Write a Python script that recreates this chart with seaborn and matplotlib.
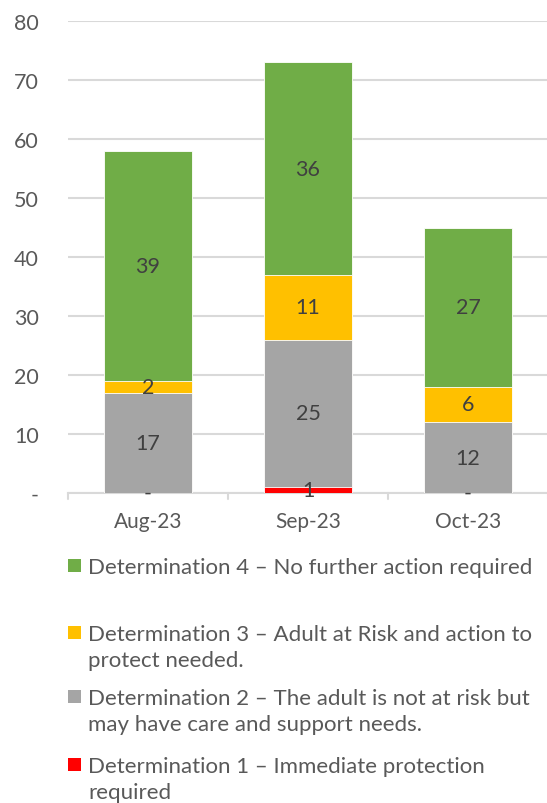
import numpy as np
import pandas as pd
import matplotlib
matplotlib.use("Agg")
import matplotlib.pyplot as plt
from matplotlib.patches import Rectangle
import seaborn as sns

# Monthly counts by determination outcome
months = ["Aug-23", "Sep-23", "Oct-23"]
det1 = [0, 1, 0]      # Immediate protection required
det2 = [17, 25, 12]   # Not at risk, may have care and support needs
det3 = [2, 11, 6]     # Adult at risk, action to protect needed
det4 = [39, 36, 27]   # No further action required

series_labels = [
    ["Determination 1 \u2013 Immediate protection", "required"],
    ["Determination 2 \u2013 The adult is not at risk but",
     "may have care and support needs."],
    ["Determination 3 \u2013 Adult at Risk and action to", "protect needed."],
    ["Determination 4 \u2013 No further action required"],
]
series_colors = ["#FF0000", "#A5A5A5", "#FFC000", "#70AD47"]
y_ticks = [0, 10, 20, 30, 40, 50, 60, 70, 80]
y_ticklabels = ["-", "10", "20", "30", "40", "50", "60", "70", "80"]

sns.set_theme(style="white")
plt.rcParams["font.family"] = ["Lato", "DejaVu Sans"]
TEXT = "#595959"
LABEL = "#404040"
GRID = "#D9D9D9"

W, H = 547, 804
fig = plt.figure(figsize=(W / 100, H / 100), dpi=100)
ax_left, ax_right = 68, 547
ax_top, ax_bottom = 22, 494
ax = fig.add_axes([ax_left / W, 1 - ax_bottom / H,
                   (ax_right - ax_left) / W, (ax_bottom - ax_top) / H])

stack = np.array([det1, det2, det3, det4], dtype=float)
cum = np.cumsum(stack, axis=0)

# Draw cumulative totals from the top series down so each layer shows its segment
for i in range(3, -1, -1):
    df = pd.DataFrame({"month": months, "value": cum[i]})
    sns.barplot(data=df, x="month", y="value", color=series_colors[i],
                width=0.556, saturation=1, edgecolor="white", linewidth=0.6,
                ax=ax, zorder=3)

# Segment value labels
for i in range(4):
    for j in range(len(months)):
        v = stack[i, j]
        base = cum[i, j] - v
        txt = "-" if v == 0 else f"{int(v)}"
        ax.text(j, base + v / 2, txt, ha="center", va="center",
                fontsize=15.5, color=LABEL, zorder=5)

ax.set_xlim(-0.5, -0.5 + (ax_right - ax_left) / 160)
ax.set_ylim(0, 80)
ax.set_yticks(y_ticks)
ax.set_yticklabels(y_ticklabels)
ax.set_xlabel("")
ax.set_ylabel("")
ax.yaxis.grid(True, color=GRID, linewidth=1.5, zorder=0)
ax.set_axisbelow(True)
for s in ["top", "right", "left"]:
    ax.spines[s].set_visible(False)
ax.spines["bottom"].set_color(GRID)
ax.spines["bottom"].set_linewidth(1.5)
ax.tick_params(axis="y", length=0, labelsize=15.5, labelcolor=TEXT, pad=21)
ax.tick_params(axis="x", length=0, labelsize=15, labelcolor=TEXT, pad=13)
for xb in [-0.5, 0.5, 1.5, 2.5]:
    ax.plot([xb, xb], [0, -1.0], color=GRID, linewidth=1.5,
            clip_on=False, zorder=2)

# Legend, drawn as colour keys with wrapped descriptions
legend_rows = [(3, 566), (2, 633), (1, 697), (0, 765)]
line_step = 26
for idx, ypx in legend_rows:
    fig.patches.append(Rectangle((68 / W, 1 - (ypx + 6.5) / H), 13 / W, 13 / H,
                                 transform=fig.transFigure,
                                 facecolor=series_colors[idx], edgecolor="none"))
    for k, line in enumerate(series_labels[idx]):
        fig.text(88 / W, 1 - (ypx + k * line_step + 8) / H, line,
                 ha="left", va="baseline", fontsize=16, color=TEXT)

fig.savefig("out.png", dpi=100)
